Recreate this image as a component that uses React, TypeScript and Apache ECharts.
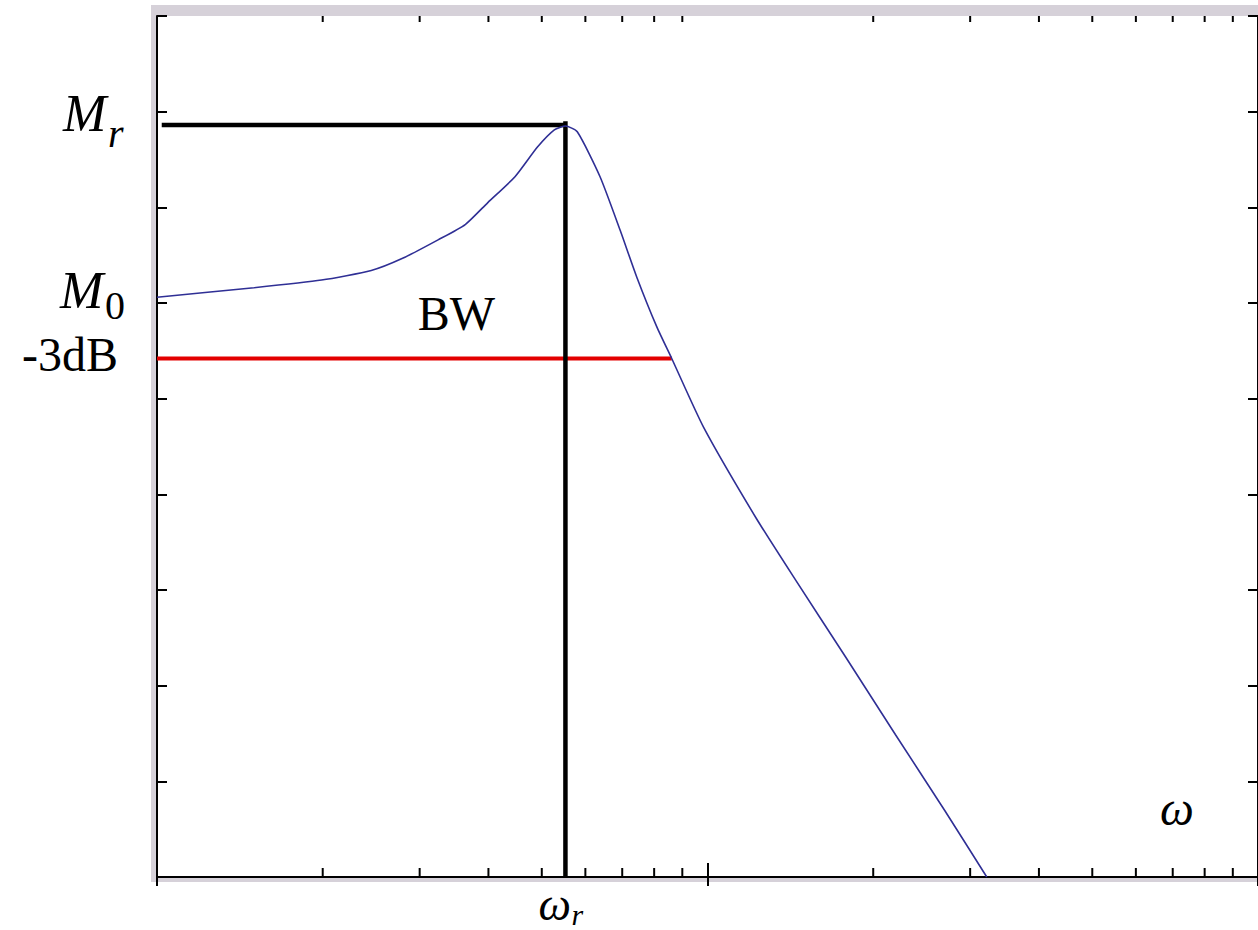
import { useEffect, useRef } from 'react';
import * as echarts from 'echarts';

// Frequency (log axis) and magnitude of the response curve
const omega = [1.0, 1.5, 1.99, 2.45, 2.8, 3.24, 3.63, 3.99, 4.47, 4.91, 5.27, 5.52, 5.8, 6.38, 6.94, 7.44, 8.09, 8.61, 9.84, 12.26, 14.47, 17.82, 21.94, 27.01, 32.16];
const magnitude = [6.06, 6.16, 6.24, 6.34, 6.47, 6.66, 6.82, 7.05, 7.32, 7.63, 7.81, 7.85, 7.79, 7.32, 6.76, 6.27, 5.75, 5.42, 4.7, 3.75, 3.1, 2.3, 1.49, 0.69, 0.0];

// Reference values
const peakOmega = 5.52;
const peakMag = 7.86;
const dcMag = 6.06;
const bwMag = 5.42;
const bwOmega = 8.61;
const bwLabelOmega = 3.5;

// Minor log ticks
const minorTicks = [2, 3, 4, 5, 6, 7, 8, 9, 20, 30, 40, 50, 60, 70, 80, 90];

const X_MIN = 1;
const X_MAX = 100;
const Y_MIN = 0;
const Y_MAX = 9;

const SERIF = '"Liberation Serif", "Times New Roman", serif';

export default function App() {
  const ref = useRef<HTMLDivElement>(null);

  useEffect(() => {
    if (!ref.current) return;
    const chart = echarts.init(ref.current, null, { renderer: 'svg' });
    const gridLeft = 157;
    const gridTop = 16;
    const gridW = 1108;
    const gridH = 861;

    const axisLine = { show: true, lineStyle: { color: '#000', width: 2 } };

    chart.setOption({
      animation: false,
      backgroundColor: '#fff',
      grid: { left: gridLeft, top: gridTop, width: gridW, height: gridH, show: false },
      xAxis: [
        {
          type: 'log', logBase: 10, min: X_MIN, max: X_MAX, position: 'bottom',
          axisLine, axisTick: { show: true, inside: true, length: 14, lineStyle: { color: '#000', width: 2 } },
          axisLabel: { show: false }, splitLine: { show: false },
        },
        {
          type: 'log', logBase: 10, min: X_MIN, max: X_MAX, position: 'top',
          axisLine, axisTick: { show: true, inside: true, length: 9, lineStyle: { color: '#000', width: 2 } },
          axisLabel: { show: false }, splitLine: { show: false },
        },
      ],
      yAxis: [
        {
          type: 'value', min: Y_MIN, max: Y_MAX, interval: 1, position: 'left',
          axisLine, axisTick: { show: true, inside: true, length: 10, lineStyle: { color: '#000', width: 2 } },
          axisLabel: { show: false }, splitLine: { show: false },
        },
        {
          type: 'value', min: Y_MIN, max: Y_MAX, interval: 1, position: 'right',
          axisLine, axisTick: { show: true, inside: true, length: 10, lineStyle: { color: '#000', width: 2 } },
          axisLabel: { show: false }, splitLine: { show: false },
        },
      ],
      series: [
        {
          type: 'custom',
          data: minorTicks.map((v) => [v, 0]),
          encode: { x: 0, y: 1 },
          silent: true,
          clip: false,
          renderItem: (params: any, api: any) => {
            const v = api.value(0);
            const b = api.coord([v, Y_MIN]);
            const t = api.coord([v, Y_MAX]);
            return {
              type: 'group',
              children: [
                { type: 'line', shape: { x1: b[0], y1: b[1], x2: b[0], y2: b[1] - 9 }, style: { stroke: '#000', lineWidth: 2 } },
                { type: 'line', shape: { x1: t[0], y1: t[1], x2: t[0], y2: t[1] + 6 }, style: { stroke: '#000', lineWidth: 2 } },
              ],
            };
          },
        },
        {
          type: 'line',
          data: [[1.0, bwMag], [bwOmega, bwMag]],
          showSymbol: false,
          clip: false,
          lineStyle: { color: '#e30000', width: 4 },
        },
        {
          type: 'line',
          data: [[1.02, peakMag], [peakOmega, peakMag]],
          showSymbol: false,
          clip: false,
          lineStyle: { color: '#000', width: 4.5 },
        },
        {
          type: 'line',
          data: [[peakOmega, Y_MIN], [peakOmega, peakMag + 0.04]],
          showSymbol: false,
          clip: false,
          lineStyle: { color: '#000', width: 4.5 },
        },
        {
          type: 'line',
          data: omega.map((w, i) => [w, magnitude[i]]),
          showSymbol: false,
          smooth: 0.2,
          lineStyle: { color: '#2f2f95', width: 1.6 },
        },
      ],
    });

    const px = (w: number, m: number) => chart.convertToPixel({ gridIndex: 0 }, [w, m]) as number[];
    const pMr = px(peakOmega, peakMag);
    const pM0 = px(1, dcMag);
    const pBw = px(1, bwMag);
    const pBwLabel = px(bwLabelOmega, bwMag);
    const pAxis = px(peakOmega, Y_MIN);

    const txt = (text: string, x: number, y: number, size: number, italic: boolean, align = 'left') => ({
      type: 'text',
      x,
      y,
      z: 10,
      style: {
        text,
        fill: '#000',
        fontSize: size,
        fontFamily: SERIF,
        fontStyle: italic ? 'italic' : 'normal',
        align,
        verticalAlign: 'middle',
      },
    });

    chart.setOption({
      graphic: [
        { type: 'rect', z: -2, shape: { x: gridLeft - 6, y: gridTop - 11, width: 1300, height: gridH + 16 }, style: { fill: '#d6d1d9' } },
        { type: 'rect', z: -1, shape: { x: gridLeft, y: gridTop, width: gridW, height: gridH }, style: { fill: '#fff' } },
        txt('M', 63, pMr[1] - 12, 52, true),
        txt('r', 108, pMr[1] + 8, 40, true),
        txt('M', 60, pM0[1] - 7, 52, true),
        txt('0', 105, pM0[1] + 8, 40, false),
        txt('-3dB', 118, pBw[1] - 4, 48, false, 'right'),
        txt('BW', pBwLabel[0], pBw[1] - 45, 48, false, 'center'),
        txt('ω', pAxis[0] - 27, pAxis[1] + 27, 46, true),
        txt('r', pAxis[0] + 6, pAxis[1] + 37, 30, true),
        txt('ω', 1160, 808, 48, true),
      ],
    });

    return () => chart.dispose();
  }, []);

  return <div ref={ref} style={{ position: 'fixed', left: 0, top: 0, width: 1258, height: 930 }} />;
}
